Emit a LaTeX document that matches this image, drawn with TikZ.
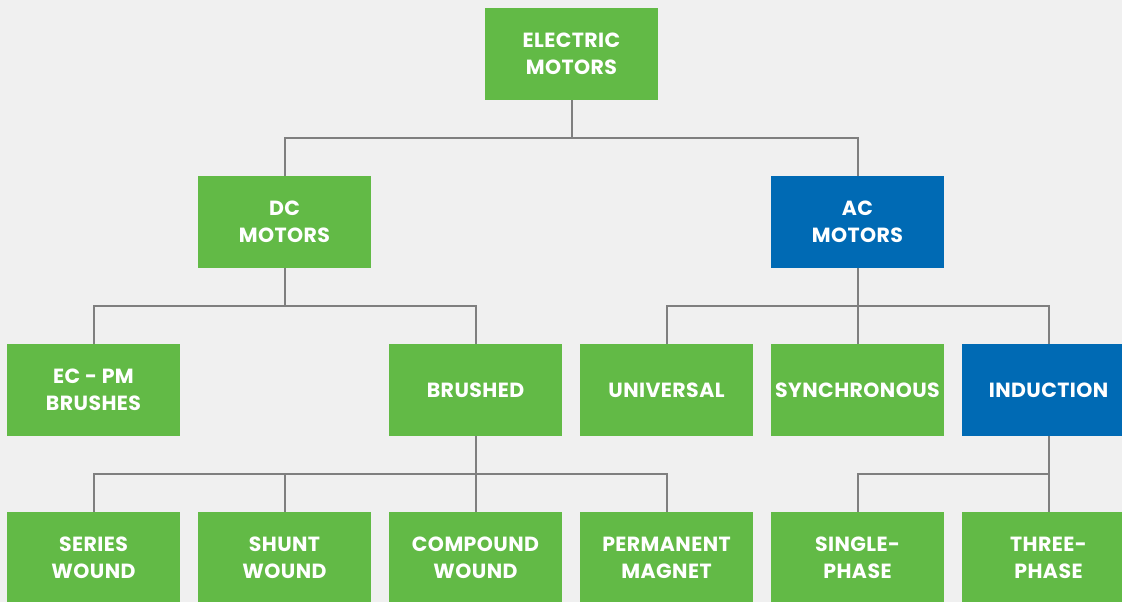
\documentclass[tikz,border=0pt]{standalone}
\usepackage{fontspec}
\setmainfont{Poppins}[BoldFont={* Bold},LetterSpace=2]
\definecolor{bg}{HTML}{F0F0F0}
\definecolor{leaf}{HTML}{62BA46}
\definecolor{ocean}{HTML}{006AB4}
\definecolor{wire}{HTML}{7F7F7F}
\begin{document}
\begin{tikzpicture}[x=1pt,y=-1pt,
  box/.style={minimum width=173pt,minimum height=92pt,inner sep=0pt,
    text=white,align=center,font=\fontsize{20.5}{27}\selectfont\bfseries},
  greenbox/.style={box,fill=leaf},
  bluebox/.style={box,fill=ocean},
  link/.style={draw=wire,line width=2pt}]
\useasboundingbox (0,0) rectangle (1122,602);
\fill[bg] (0,0) rectangle (1122,602);
\clip (0,0) rectangle (1122,602);
% level 1
\node[greenbox] (em) at (571.5,54) {ELECTRIC\\MOTORS};
% level 2
\node[greenbox] (dc) at (284.5,222) {DC\\MOTORS};
\node[bluebox]  (ac) at (857.5,222) {AC\\MOTORS};
% level 3
\node[greenbox] (ecpm) at (93.5,390) {EC - PM\\BRUSHES};
\node[greenbox] (brushed) at (475.5,390) {BRUSHED};
\node[greenbox] (universal) at (666.5,390) {UNIVERSAL};
\node[greenbox] (sync) at (857.5,390) {SYNCHRONOUS};
\node[bluebox]  (induction) at (1048.5,390) {INDUCTION};
% level 4
\node[greenbox] (series) at (93.5,558) {SERIES\\WOUND};
\node[greenbox] (shunt) at (284.5,558) {SHUNT\\WOUND};
\node[greenbox] (compound) at (475.5,558) {COMPOUND\\WOUND};
\node[greenbox] (permanent) at (666.5,558) {PERMANENT\\MAGNET};
\node[greenbox] (single) at (857.5,558) {SINGLE-\\PHASE};
\node[greenbox] (three) at (1048.5,558) {THREE-\\PHASE};
% connectors
\foreach \p/\c in {em/dc,em/ac,
  dc/ecpm,dc/brushed,
  ac/universal,ac/sync,ac/induction,
  brushed/series,brushed/shunt,brushed/compound,brushed/permanent,
  induction/single,induction/three}
  \draw[link] (\p.south) -- ++(0,38) -| (\c.north);
\end{tikzpicture}
\end{document}
